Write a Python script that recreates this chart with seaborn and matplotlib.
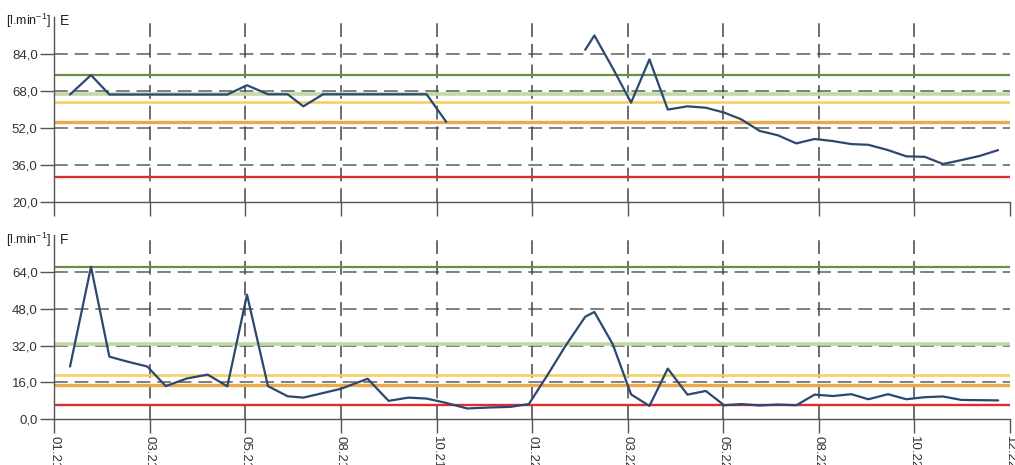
import numpy as np
import pandas as pd
import matplotlib
matplotlib.use("Agg")
import matplotlib.pyplot as plt
import seaborn as sns

# Sampling dates (roughly biweekly)
sample_dates = [
    "2021-01-13", "2021-01-29", "2021-02-12", "2021-02-26", "2021-03-13",
    "2021-03-27", "2021-04-12", "2021-04-28", "2021-05-13", "2021-05-28",
    "2021-06-13", "2021-06-28", "2021-07-10", "2021-07-25", "2021-08-08",
    "2021-08-28", "2021-09-13", "2021-09-28", "2021-10-12", "2021-10-27",
    "2021-11-12", "2021-11-28", "2021-12-15", "2021-12-29", "2022-01-12",
    "2022-01-26", "2022-02-10", "2022-02-17", "2022-03-03", "2022-03-17",
    "2022-03-31", "2022-04-14", "2022-04-29", "2022-05-13", "2022-05-27",
    "2022-06-09", "2022-06-23", "2022-07-07", "2022-07-21", "2022-08-04",
    "2022-08-18", "2022-09-01", "2022-09-14", "2022-09-29", "2022-10-13",
    "2022-10-27", "2022-11-10", "2022-11-24", "2022-12-08", "2022-12-22",
]

# Flow rate E [l/min]; NaN = no measurement
flow_E = [
    66.4, 74.8, 66.4, 66.4, 66.4, 66.4, 66.4, 66.4, 66.4, 70.4,
    66.5, 66.5, 61.3, 66.5, 66.5, 66.5, 66.5, 66.5, 66.5, 54.6,
    np.nan, np.nan, np.nan, np.nan, np.nan, np.nan, 85.7, 91.9, 77.8, 62.9,
    81.6, 59.9, 61.3, 60.7, 58.6, 55.7, 50.7, 48.8, 45.3, 47.2,
    46.3, 45.0, 44.7, 42.4, 39.7, 39.5, 36.4, 38.1, 39.9, 42.4,
]

# Flow rate F [l/min]
flow_F = [
    22.9, 66.2, 27.2, 25.0, 22.9, 14.4, 17.7, 19.4, 14.3, 54.1,
    14.4, 10.0, 9.4, 11.4, 13.3, 17.6, 8.0, 9.4, 9.0, 7.1,
    4.7, 5.1, 5.4, 6.6, 19.0, 31.9, 44.5, 46.6, 32.6, 10.8,
    5.8, 22.0, 10.7, 12.3, 6.1, 6.6, 6.0, 6.4, 6.1, 10.7,
    10.1, 10.9, 8.7, 10.9, 8.7, 9.6, 9.9, 8.4, 8.3, 8.2,
]

# Limit levels for each channel
limits_E = [75.0, 66.5, 63.0, 54.5, 30.6]
limits_F = [66.2, 32.9, 19.4, 15.0, 6.1]
limit_colors = ["#6b8e46", "#c4d8a6", "#f5cf62", "#eba84f", "#dd2d34"]
limit_widths = [1.6, 2.6, 1.9, 2.4, 1.7]

month_labels = ["01.21", "03.21", "05.21", "08.21", "10.21", "01.22",
                "03.22", "05.22", "08.22", "10.22", "12.22"]
yticks_E = [20, 36, 52, 68, 84]
yticks_F = [0, 16, 32, 48, 64]
ylim_E = (20, 100)
ylim_F = (0, 80)
unit_label = r"[l.min$^{\mathregular{-1}}$]"

start = pd.Timestamp("2021-01-01")
end = pd.Timestamp("2022-12-31")
span = (end - start).days

days = (pd.to_datetime(sample_dates) - start).days.astype(float)


def segments(values):
    v = pd.Series(values, dtype=float)
    brk = v.isna().cumsum()
    return brk


df_E = pd.DataFrame({"day": days, "flow": flow_E})
df_E["run"] = segments(flow_E)
df_E = df_E.dropna()
df_F = pd.DataFrame({"day": days, "flow": flow_F})
df_F["run"] = segments(flow_F)
df_F = df_F.dropna()

sns.set_theme(style="white")
plt.rcParams["font.family"] = ["Liberation Sans", "DejaVu Sans"]
plt.rcParams["mathtext.fontset"] = "custom"
plt.rcParams["mathtext.rm"] = "Liberation Sans"

fig = plt.figure(figsize=(10.15, 4.65), dpi=100)
ax_E = fig.add_axes([0.0535, 0.5656, 0.9415, 0.3985])
ax_F = fig.add_axes([0.0535, 0.0983, 0.9415, 0.3963])

grid_color = "#5c5c5c"
axis_color = "#555555"
line_color = "#2b4870"
xticks = np.linspace(0, span, len(month_labels))

panels = [
    (ax_E, df_E, limits_E, yticks_E, ylim_E, "E", False),
    (ax_F, df_F, limits_F, yticks_F, ylim_F, "F", True),
]

for ax, df, limits, yticks, ylim, name, show_x in panels:
    ax.set_xlim(0, span)
    ax.set_ylim(*ylim)

    for level, col, lw in zip(limits, limit_colors, limit_widths):
        ax.axhline(level, color=col, lw=lw, zorder=2)

    for yv in yticks[1:]:
        ax.axhline(yv, color=grid_color, lw=1.1, ls=(0, (9, 4.5)), zorder=1.5)
    for xv in xticks[1:-1]:
        ax.axvline(xv, color="#444444", lw=1.1, ls=(0, (9, 4.5)), zorder=1.5)

    sns.lineplot(data=df, x="day", y="flow", units="run", estimator=None,
                 color=line_color, lw=1.6, ax=ax, zorder=3, sort=False)

    ax.set_xticks(xticks)
    ax.set_yticks(yticks)
    ax.set_yticklabels([f"{v:.1f}".replace(".", ",") for v in yticks],
                       fontsize=9.5, color="#333333")
    if show_x:
        ax.set_xticklabels(month_labels, rotation=-90, fontsize=9.5,
                           color="#333333", va="top", ha="center")
    else:
        ax.set_xticklabels([])
    ax.tick_params(axis="both", direction="out", length=10, width=1.0,
                   color=axis_color, pad=2, left=True, bottom=True)
    ax.set_xlabel("")
    ax.set_ylabel("")

    for side in ("top", "right"):
        ax.spines[side].set_visible(False)
    for side in ("left", "bottom"):
        ax.spines[side].set_color(axis_color)
        ax.spines[side].set_linewidth(1.0)

    ax.text(-0.004, 0.975, unit_label, transform=ax.transAxes,
            ha="right", va="center", fontsize=9, color="#222222")
    ax.text(0.006, 0.975, name, transform=ax.transAxes,
            ha="left", va="center", fontsize=10, color="#222222")

fig.savefig("out.png", dpi=100, facecolor="white")
